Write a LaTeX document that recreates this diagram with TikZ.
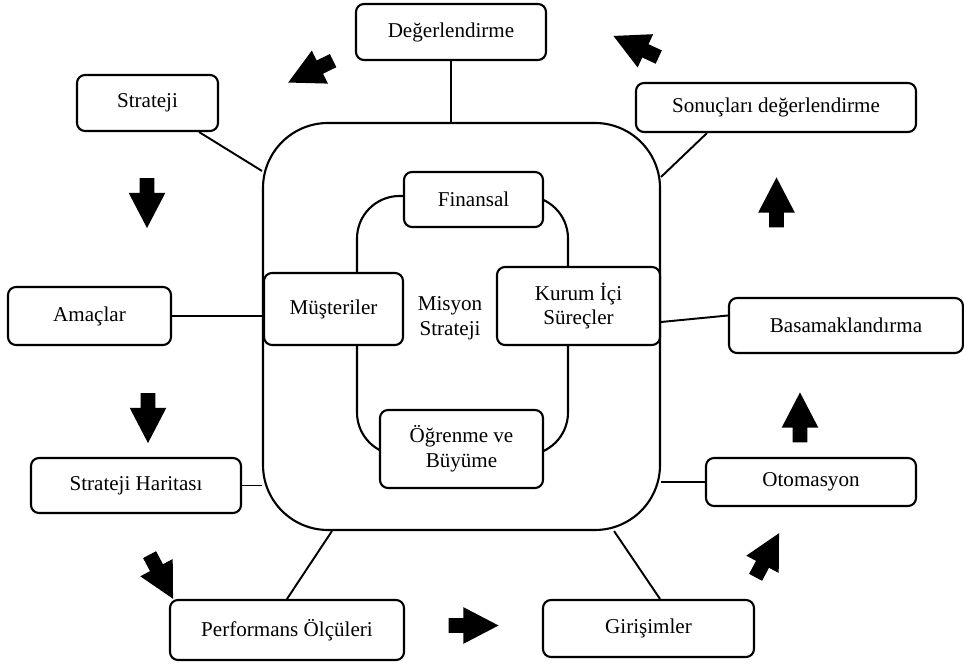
\documentclass[tikz,border=0pt]{standalone}
\usepackage{fontspec}
\setmainfont{Liberation Serif}
\usepackage{tikz}
\usetikzlibrary{arrows.meta,shapes.arrows,positioning,calc}

\begin{document}
\begin{tikzpicture}[
    box/.style={draw, rounded corners=0.16cm, line width=1.2pt, fill=white, align=center, font=\fontsize{12}{14}\selectfont, inner sep=0pt},
    link/.style={line width=1.1pt},
    barrow/.style={single arrow, fill=black, inner xsep=0pt, inner ysep=0.14cm, minimum height=1cm, single arrow head extend=0.22cm, single arrow tip angle=55}
]
\useasboundingbox (0,0) rectangle (19.28,13.28);

% central frame and perspective loop
\node[draw, line width=1.2pt, rounded corners=1.3cm, minimum width=7.94cm, minimum height=8.14cm] (frame) at (9.23,6.75) {};
\node[draw, line width=1.2pt, rounded corners=0.85cm, minimum width=4.22cm, minimum height=5.18cm] (loop) at (9.25,6.77) {};

\node[box, minimum width=2.78cm, minimum height=1.1cm] (fin) at (9.47,9.29) {Finansal};
\node[box, minimum width=2.78cm, minimum height=1.44cm] (must) at (6.67,7.1) {Müşteriler};
\node[box, minimum width=3.26cm, minimum height=1.56cm] (kurum) at (11.57,7.16) {Kurum İçi\\Süreçler};
\node[box, minimum width=3.26cm, minimum height=1.56cm] (ogren) at (9.23,4.3) {Öğrenme ve\\Büyüme};
\node[align=center, font=\fontsize{12}{14}\selectfont] (misyon) at (9.0,6.92) {Misyon\\Strateji};

% outer steps
\node[box, minimum width=3.8cm, minimum height=1.12cm] (deger) at (9.02,12.64) {Değerlendirme};
\node[box, minimum width=2.82cm, minimum height=1.12cm] (strat) at (2.95,11.22) {Strateji};
\node[box, minimum width=5.6cm, minimum height=0.98cm] (sonuc) at (15.52,11.13) {Sonuçları değerlendirme};
\node[box, minimum width=3.26cm, minimum height=1.16cm] (amac) at (1.79,6.96) {Amaçlar};
\node[box, minimum width=4.68cm, minimum height=1.1cm] (basam) at (16.92,6.77) {Basamaklandırma};
\node[box, minimum width=4.2cm, minimum height=1.1cm] (harita) at (2.72,3.57) {Strateji Haritası};
\node[box, minimum width=4.2cm, minimum height=0.96cm] (otom) at (16.22,3.64) {Otomasyon};
\node[box, minimum width=4.68cm, minimum height=1.2cm] (perf) at (5.74,0.68) {Performans Ölçüleri};
\node[box, minimum width=4.22cm, minimum height=1.14cm] (giris) at (12.97,0.71) {Girişimler};

\draw[link] (deger.south) -- (deger.south |- frame.north);
\draw[link] ([xshift=-0.4cm]strat.south east) -- ([yshift=-0.98cm]frame.north west);
\draw[link] ([xshift=-1.38cm]sonuc.south) -- ([yshift=-1.1cm]frame.north east);
\draw[link] (amac.east) -- (amac.east -| frame.west);
\draw[link] ([yshift=0.2cm]basam.west) -- ([yshift=-0.32cm]kurum.east);
\draw[link] (harita.east) -- (harita.east -| frame.west);
\draw[link] (otom.west) -- (otom.west -| frame.east);
\draw[link] (perf.north) -- ([xshift=1.4cm]frame.south west);
\draw[link] ([xshift=0.23cm]giris.north) -- ([xshift=-0.94cm]frame.south east);

% cycle arrows
\node[barrow, rotate=-90] (a1) at (2.94,9.36) {};
\node[barrow, rotate=-90] (a2) at (2.96,5.06) {};
\node[barrow, rotate=-62] (a3) at (3.16,1.87) {};
\node[barrow] (a4) at (9.33,0.77) {};
\node[barrow, rotate=62] (a5) at (15.28,2.05) {};
\node[barrow, rotate=90] (a6) at (16.0,4.79) {};
\node[barrow, rotate=90] (a7) at (15.53,9.09) {};
\node[barrow, rotate=155] (a8) at (12.85,12.29) {};
\node[barrow, rotate=206] (a9) at (6.34,11.91) {};
\end{tikzpicture}
\end{document}
